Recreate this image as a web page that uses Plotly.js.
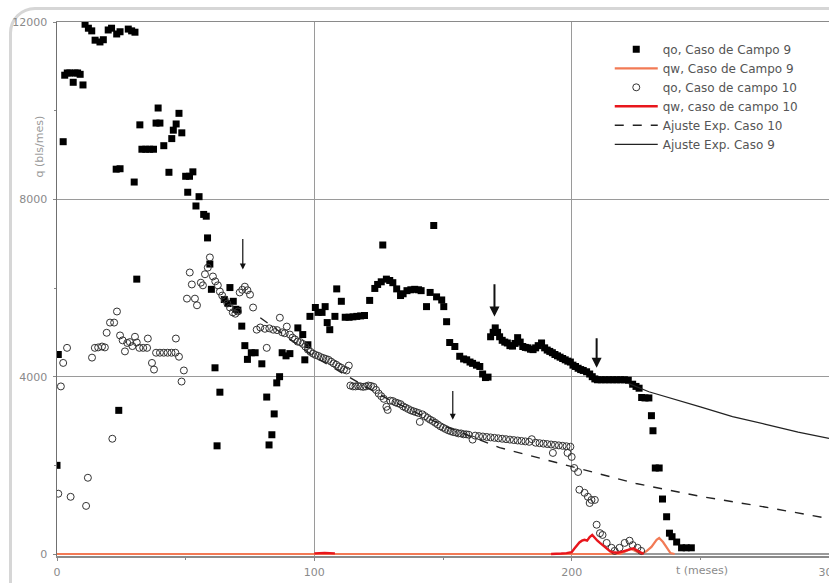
<!DOCTYPE html>
<html>
<head>
<meta charset="utf-8">
<script src="https://cdn.plot.ly/plotly-3.0.1.min.js"></script>
<style>
  html, body { margin: 0; padding: 0; background: #ffffff; overflow: hidden; }
  #frame {
    position: absolute; left: 9px; top: 7px; width: 1000px; height: 1000px;
    border: 3px solid #d6d6d6; border-radius: 26px; box-sizing: border-box;
  }
  #chart { position: absolute; left: 0; top: 0; width: 829px; height: 583px; z-index: 1; }
</style>
</head>
<body>
<div id="frame"></div>
<div id="chart"></div>
<script>
// Production history, field case 9 (oil rate, filled squares)
const qo9_t = [0, 0.5, 2.4, 3, 4, 5, 6.3, 7, 8, 9, 10.1,
  10.9, 12.2, 13.5, 14.8, 16.7, 18, 19.9, 21.2, 23.2, 24.5, 27.7, 29, 30.3,
  23, 24.5, 24, 30, 31, 32.2, 33, 34.5, 36, 37.5, 38.5, 40, 39.3, 41.5, 43.5, 44.6, 45.2, 46.3, 47.4, 48.5,
  50, 51.5, 50.8, 52.8, 54, 55.2, 57, 58, 58.5, 59.4, 60, 61.4, 62.2, 63.3, 65, 66.5, 67.2, 68.5, 69.5, 70.3,
  71.8, 73, 74, 75.5, 77, 79.6, 81.5, 82.4, 83.5, 84.4, 85.4, 86.5, 87.5, 89, 90.5, 93.6, 95.5, 96.3, 97.5,
  98.3, 100.4, 101.5, 103, 104.2, 105, 106, 108, 108.7, 110.5, 112, 113.5, 115, 116.5, 118, 119.5,
  121.5, 123.5, 124.6, 126, 126.6, 128, 129.3, 130.5, 132, 133.5, 134.5, 136, 137.5, 139, 140.5, 141.5,
  143.6, 145, 146.4, 147.5, 149.5, 150.3, 151.4, 152.6, 154.6, 156.5, 158, 159.2, 160.5, 161.5, 163, 164.3,
  165.4, 166.5, 167.5, 168.5, 169.5, 170.3, 171.2, 172, 173, 174, 175, 176, 177, 178, 179, 180, 181, 182,
  183, 184, 185, 186, 187, 188.3, 189.5, 190.5, 191.5, 192.5, 193.5, 194.5, 195.5, 196.5, 197.5, 198.5,
  199.5, 200.5, 201.5, 202.5, 203.5, 204.5, 205.8, 207, 208, 209, 210, 211.5, 213, 214.5, 216, 217.5, 219,
  220.5, 222, 223.7, 225, 226.2, 227.2, 228.5, 230, 231, 231.6, 232.5, 234, 235.3, 236.9, 238, 239, 240.8,
  242.7, 244.5, 246.5];
const qo9_q = [2000, 4500, 9300, 10800, 10850, 10850, 10640, 10850, 10850, 10820, 10580,
  11950, 11860, 11800, 11590, 11550, 11600, 11820, 11860, 11730, 11780, 11840, 11800, 11770,
  8680, 8690, 3240, 8390, 6200, 9680, 9130, 9130, 9130, 9130, 9720, 9720, 10060, 9210, 8610, 9370, 9560, 9700, 9940, 9500,
  8520, 8520, 8160, 8620, 7850, 8060, 7660, 7620, 7130, 6540, 5970, 4200, 2440, 3650, 5740, 5650, 6010, 5700, 5520, 5500,
  5140, 4700, 4390, 4540, 4540, 4290, 3540, 2460, 2690, 3160, 3860, 4000, 4540, 4470, 4520, 5100, 4950, 4380, 4720,
  5360, 5560, 5450, 5450, 5580, 5220, 5060, 5360, 5980, 5700, 5340, 5340, 5350, 5360, 5370, 5380,
  5720, 5990, 6080, 6140, 6970, 6200, 6170, 6120, 5980, 5830, 5870, 5940, 5960, 5970, 5960, 5940,
  5580, 5900, 7410, 5800, 5730, 5580, 5240, 4770, 4680, 4460, 4400, 4380, 4330, 4300, 4260, 4230,
  4060, 3980, 3990, 4900, 5000, 5100, 5000, 4900, 4820, 4780, 4760, 4700, 4690, 4750, 4880, 4780, 4680, 4660,
  4650, 4620, 4610, 4650, 4700, 4760, 4650, 4600, 4570, 4540, 4500, 4470, 4440, 4410, 4380, 4350,
  4330, 4260, 4230, 4190, 4160, 4140, 4110, 4060, 4000, 3950, 3930, 3930, 3930, 3930, 3930, 3930, 3930,
  3930, 3920, 3830, 3780, 3740, 3530, 3520, 3520, 3120, 2780, 1940, 1940, 1240, 840, 470, 390, 270,
  140, 140, 140];

// Water rate, field case 9
const qw9_t = [0, 50, 100, 150, 200, 219, 221, 223, 225, 227, 229, 231, 233, 234, 235.5, 237, 238.4, 240];
const qw9_q = [0, 0, 0, 0, 0, 0, 60, 120, 60, 0, 60, 160, 320, 360, 270, 140, 20, 0];

// Oil rate, field case 10 (open circles)
const qo10_t = [0.5, 1.5, 2.4, 3.9, 5.3, 11.3, 12, 13.6, 14.7, 16, 17.5, 18.6, 19.3, 20.6, 21.5, 22.2, 23.3,
  24.5, 25.5, 26.4, 27.3, 28.3, 29.3, 30.3, 31, 32, 33.5, 35, 35.3, 36.9, 37.7, 38.5, 40, 41.5, 43, 44.5, 46,
  46.2, 47.4, 48.4, 49.3, 50.5, 51.6, 52.4, 53.6, 54.4, 55.9, 56.7, 57.5, 58.6, 59.4, 60.6, 61.5, 62.5, 63.3,
  64.2, 65.2, 66.2, 67.2, 68.3, 69.3, 70.3, 71, 72, 73, 74, 75, 76.2, 77.6, 79, 80.8, 81.5, 82.5, 84, 85.5,
  86.6, 87.5, 88.5, 89.3, 90.5, 91.5, 92.5, 93.5, 94.5, 95.5, 96.5, 97.5, 98.5, 99.5, 100.5, 101.5, 102.5,
  103.5, 104.5, 105.5, 106.5, 107.5, 108.5, 109.5, 110.5, 111.5, 112.5, 113.4, 114, 115, 116, 117, 118, 119,
  120, 121, 122, 123, 124, 125, 126, 127, 128, 128.5, 129.5, 130.5, 131.5, 132.5, 133.5, 134.5, 135.5, 136.5,
  137.5, 138.5, 139.5, 140.5, 141, 142, 143, 144, 145, 146, 147, 148, 149, 150, 151, 152, 153, 154, 155, 156,
  157, 158, 159, 160, 161.5, 162.5, 164, 165.5, 167, 168.5, 170, 171.5, 173, 174.5, 176, 177.5, 179, 180.5,
  182, 183.5, 184.5, 186, 187.5, 189, 190.5, 192, 192.7, 193.5, 195, 196.5, 198, 198.4, 199.5, 200, 201,
  202.5, 203, 205, 206.3, 207, 207.7, 209, 209.7, 211, 212, 213.6, 215.5, 216.7, 218.6, 220.6, 222.5, 223.7,
  225.6, 227];
const qo10_q = [1360, 3780, 4310, 4650, 1290, 1085, 1720, 4430, 4650, 4660, 4680, 4660, 4990, 5220, 2600, 5220, 5470,
  4930, 4820, 4570, 4760, 4780, 4690, 4900, 4770, 4650, 4650, 4650, 4860, 4310, 4160, 4540, 4540, 4540, 4540, 4540, 4540,
  4860, 4450, 3890, 4140, 5760, 6350, 6080, 5760, 5610, 6120, 6060, 6310, 6460, 6690, 6260, 6150, 6060, 5920,
  5830, 5740, 5650, 5560, 5450, 5420, 5470, 5900, 5960, 6030, 5950, 5850, 5560, 5060, 5110, 5080, 4650, 5090, 5060, 5050,
  5330, 5000, 4980, 5130, 4950, 4880, 4840, 4790, 4780, 4740, 4680, 4610, 4560, 4520, 4490, 4470, 4440,
  4420, 4400, 4380, 4340, 4300, 4270, 4230, 4200, 4160, 4140, 4250, 3800, 3780, 3780, 3790, 3780, 3770,
  3780, 3800, 3790, 3770, 3700, 3620, 3560, 3500, 3320, 3250, 3460, 3450, 3420, 3400, 3380, 3330, 3300, 3270,
  3240, 3220, 3200, 3180, 2980, 3150, 3110, 3070, 3030, 3000, 2960, 2920, 2880, 2850, 2820, 2790, 2770, 2750, 2740, 2720,
  2720, 2700, 2700, 2690, 2580, 2670, 2660, 2650, 2640, 2630, 2620, 2610, 2600, 2590, 2580, 2570, 2560, 2550,
  2540, 2530, 2590, 2510, 2500, 2490, 2480, 2470, 2280, 2460, 2450, 2440, 2430, 2280, 2420, 2190, 1940,
  1850, 1450, 1380, 1290, 1150, 1220, 1220, 660, 470, 430, 250, 140, 70, 140, 250, 300, 200,
  140, 70];

// Water rate, field case 10 (null splits the two producing periods)
const qw10_t = [100, 102, 104, 106, 108, null, 192, 194, 196, 198, 200, 201, 202, 203, 204, 205, 206, 207, 208,
  209, 210, 211, 212, 213, 214, 215, 216, 218, 220, 222, 224, 226, 228];
const qw10_q = [15, 25, 25, 20, 15, null, 0, 0, 10, 20, 40, 120, 200, 260, 300, 320, 300, 380, 430,
  360, 300, 250, 200, 140, 100, 60, 40, 30, 60, 100, 130, 60, 0];

// Exponential decline fits
const fit10_t = [79, 100, 125, 150, 172, 200, 225, 250, 275, 300];
const fit10_q = [5330, 4450, 3600, 2900, 2400, 1970, 1590, 1300, 1060, 800];
const fit9_t = [222, 230, 250, 262.5, 275, 288, 300];
const fit9_q = [3850, 3660, 3320, 3100, 2930, 2750, 2610];

// Axis ticks
const xTicks = [0, 100, 200, 300];
const yTicks = [0, 4000, 8000, 12000];

const FONT = 'DejaVu Sans, Arial, sans-serif';

const traces = [
  { name: 'qo, Caso de Campo 9', x: qo9_t, y: qo9_q, type: 'scatter', mode: 'markers',
    marker: { symbol: 'square', size: 7, color: '#000000' } },
  { name: 'qw, Caso de Campo 9', x: qw9_t, y: qw9_q, type: 'scatter', mode: 'lines',
    line: { color: '#f27a55', width: 2.2 } },
  { name: 'qo, Caso de campo 10', x: qo10_t, y: qo10_q, type: 'scatter', mode: 'markers',
    marker: { symbol: 'circle-open', size: 7, color: '#333333', line: { width: 1 } } },
  { name: 'qw, caso de campo 10', x: qw10_t, y: qw10_q, type: 'scatter', mode: 'lines',
    connectgaps: false, line: { color: '#e8161c', width: 2.4 } },
  { name: 'Ajuste Exp. Caso 10', x: fit10_t, y: fit10_q, type: 'scatter', mode: 'lines',
    line: { color: '#222222', width: 1.4, dash: 'dash' } },
  { name: 'Ajuste Exp. Caso 9', x: fit9_t, y: fit9_q, type: 'scatter', mode: 'lines',
    line: { color: '#222222', width: 1.2 } }
];

// Downward arrows marking the start of each decline period
function arrow(x, yHead, yTail, w) {
  return { x: x, y: yHead, ax: x, ay: yTail, xref: 'x', yref: 'y', axref: 'x', ayref: 'y',
    text: '', showarrow: true, arrowhead: 2, arrowsize: 1, arrowwidth: w, arrowcolor: '#111111' };
}

const layout = {
  width: 829, height: 583,
  margin: { l: 57, r: 0, t: 22, b: 27 },
  paper_bgcolor: 'rgba(0,0,0,0)',
  plot_bgcolor: '#ffffff',
  showlegend: true,
  legend: {
    x: 0.716, y: 0.976, xanchor: 'left', yanchor: 'top',
    bgcolor: 'rgba(0,0,0,0)', itemwidth: 43,
    font: { family: FONT, size: 12, color: '#555555' }
  },
  xaxis: {
    range: [0, 300], tickvals: xTicks, ticktext: xTicks.map(String),
    layer: 'below traces',
    showgrid: true, gridcolor: '#9a9a9a', gridwidth: 1.5,
    showline: true, linecolor: '#8a8a8a', linewidth: 1.5, mirror: true,
    ticks: 'outside', ticklen: 3, tickcolor: '#888888',
    minor: { tickvals: [50, 150, 250], ticks: 'outside', ticklen: 2, tickcolor: '#888888', showgrid: false },
    zeroline: false, ticklabeloverflow: 'allow', ticklabelstandoff: 2,
    tickfont: { family: FONT, size: 11, color: '#8a8a8a' }
  },
  yaxis: {
    range: [-45, 12000], tickvals: yTicks, ticktext: yTicks.map(String),
    layer: 'below traces',
    showgrid: true, gridcolor: '#9a9a9a', gridwidth: 1.5,
    showline: true, linecolor: '#707070', linewidth: 1.5,
    ticks: 'outside', ticklen: 3, tickcolor: '#888888',
    minor: { tickvals: [2000, 6000, 10000], ticks: 'outside', ticklen: 2, tickcolor: '#888888', showgrid: false },
    zeroline: false, ticklabelstandoff: 3,
    tickfont: { family: FONT, size: 11, color: '#8a8a8a' }
  },
  annotations: [
    { text: 'q (bls/mes)', xref: 'paper', yref: 'paper', x: -0.034, y: 0.829, textangle: -90,
      showarrow: false, font: { family: FONT, size: 11, color: '#9a9a9a' } },
    { text: 't (meses)', xref: 'x', yref: 'paper', x: 250.5, y: -0.028, yanchor: 'middle',
      showarrow: false, font: { family: FONT, size: 11, color: '#8a8a8a' } },
    arrow(72.2, 6420, 7140, 1.2),
    arrow(153.8, 3030, 3710, 1.2),
    arrow(170, 5360, 6120, 2),
    arrow(209.7, 4200, 4900, 2)
  ]
};

Plotly.newPlot('chart', traces, layout, { displayModeBar: false, staticPlot: true });
</script>
</body>
</html>
